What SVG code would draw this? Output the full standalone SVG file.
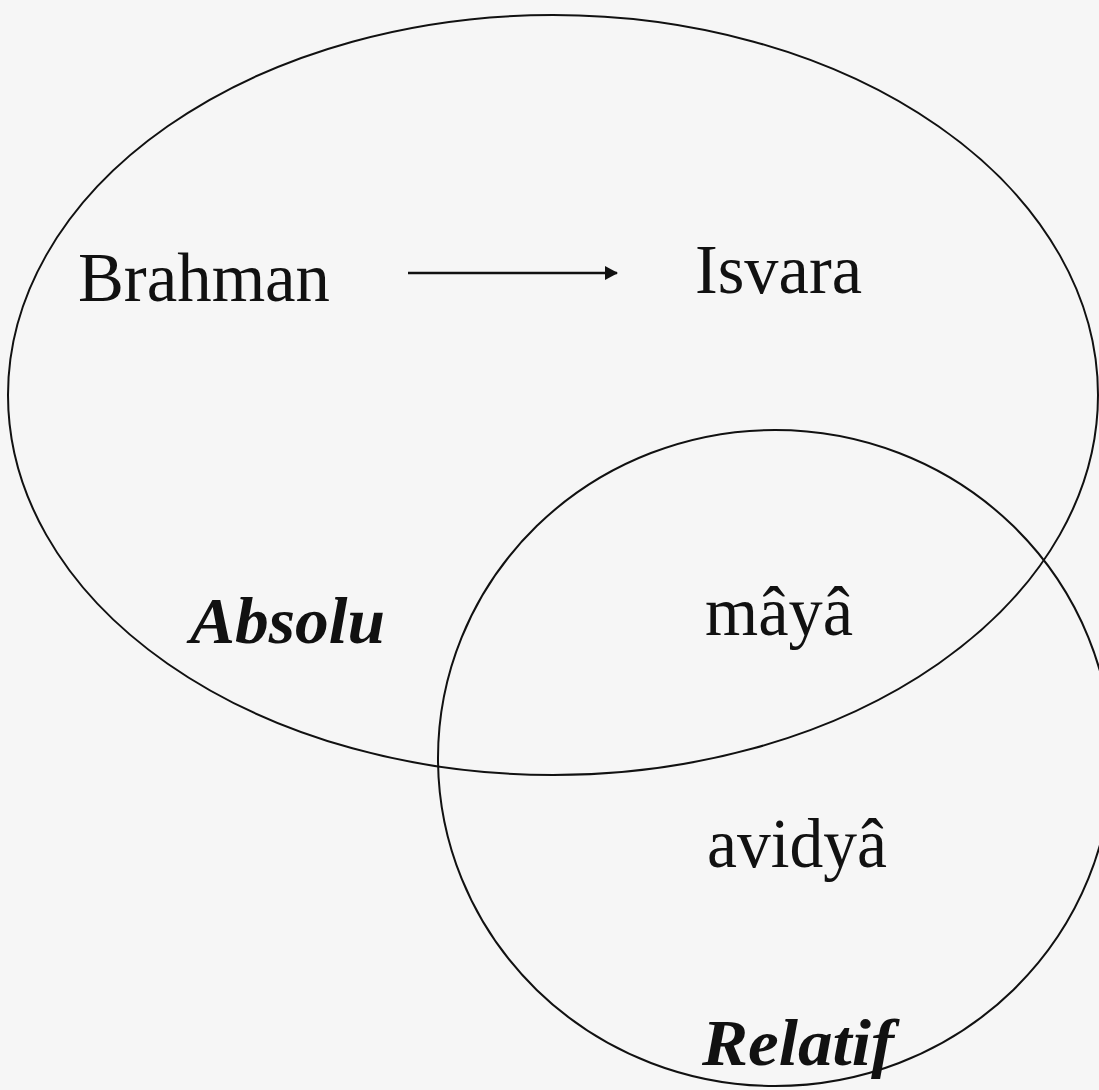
<svg xmlns="http://www.w3.org/2000/svg" width="1099" height="1090" viewBox="0 0 1099 1090">
<style>
.shape{fill:none;stroke:#111;stroke-width:2}
.t{font-family:"Liberation Serif","Times New Roman",serif;font-size:70px;fill:#111}
.bi{font-family:"Liberation Serif","Times New Roman",serif;font-size:66px;font-weight:bold;font-style:italic;fill:#111}
</style>
<defs>
<marker id="arr" markerWidth="13" markerHeight="14" refX="12" refY="7" orient="auto" markerUnits="userSpaceOnUse">
<path d="M0,0 L13,7 L0,14 Z" fill="#111"/>
</marker>
</defs>
<rect width="1099" height="1090" fill="#f6f6f6"/>
<g id="absolu">
<ellipse class="shape" cx="553" cy="395" rx="545" ry="380"/>
<text class="bi" x="190" y="643" textLength="195" lengthAdjust="spacingAndGlyphs">Absolu</text>
</g>
<g id="relatif">
<ellipse class="shape" cx="775" cy="758" rx="337" ry="328"/>
<text class="bi" x="702" y="1065" textLength="192" lengthAdjust="spacingAndGlyphs">Relatif</text>
</g>
<g id="brahman">
<text class="t" x="78" y="301" textLength="252" lengthAdjust="spacingAndGlyphs">Brahman</text>
</g>
<g id="isvara">
<text class="t" x="695" y="293" textLength="167" lengthAdjust="spacingAndGlyphs">Isvara</text>
</g>
<g id="maya">
<text class="t" x="705" y="635" textLength="148" lengthAdjust="spacingAndGlyphs">mâyâ</text>
</g>
<g id="avidya">
<text class="t" x="707" y="867" textLength="180" lengthAdjust="spacingAndGlyphs">avidyâ</text>
</g>
<g id="connectors">
<line x1="408" y1="273" x2="617" y2="273" stroke="#111" stroke-width="2.5" marker-end="url(#arr)"/>
</g>
</svg>
